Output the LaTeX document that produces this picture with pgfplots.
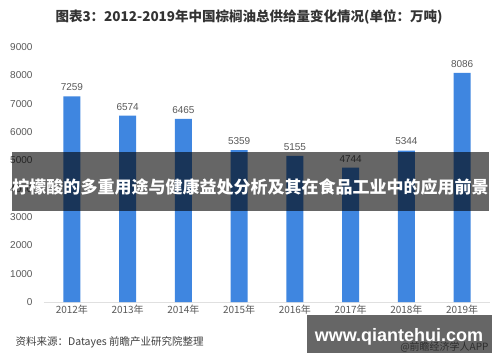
\documentclass[border=0pt]{standalone}
\usepackage{pgfplots}
\pgfplotsset{compat=1.18}
\usepackage{fontspec}
\setmainfont{Liberation Sans}
\newfontfamily\cjk{Noto Sans CJK SC}
\definecolor{barblue}{HTML}{3F86E0}
\definecolor{txtgray}{HTML}{595959}
\begin{document}
\begin{tikzpicture}[x=1pt,y=1pt]
\fill[white] (0,0) rectangle (500,362);
\node[font=\cjk\bfseries\fontsize{13.5}{15}\selectfont, text=black!80] at (249,345) {图表3：2012-2019年中国棕榈油总供给量变化情况(单位：万吨)};
\begin{axis}[
  at={(44pt,60pt)}, anchor=south west,
  width=446pt, height=255pt, scale only axis,
  xmin=-0.5, xmax=7.5, ymin=0, ymax=9000,
  xtick={0,...,7},
  xticklabels={2012年,2013年,2014年,2015年,2016年,2017年,2018年,2019年},
  ytick={0,1000,...,9000},
  axis x line*=bottom, axis y line=none,
  x axis line style={draw=black!12, line width=0.8pt},
  major tick length=0pt,
  tick label style={font=\cjk\fontsize{10}{12}\selectfont, text=txtgray},
  /pgf/number format/assume math mode=true,
  /pgf/number format/1000 sep={},
  scaled y ticks=false,
  clip=false,
]
\addplot[ybar, bar width=17pt, fill=barblue, draw=none,
  nodes near coords,
  nodes near coords style={font=\fontsize{10}{12}\selectfont, text=txtgray, yshift=2pt, /pgf/number format/1000 sep={}}]
  coordinates {(0,7259) (1,6574) (2,6465) (3,5359) (4,5155) (5,4744) (6,5344) (7,8086)};
\pgfplotsinvokeforeach{0,1000,...,9000}{
  \node[anchor=east, font=\fontsize{10}{12}\selectfont, text=txtgray] at (axis cs:-0.5,#1) [xshift=-8pt] {#1};
}
\end{axis}
\node[anchor=west, font=\cjk\fontsize{10.5}{12}\selectfont, text=black!75] at (12,20) {资料来源：Datayes 前瞻产业研究院整理};
\fill[black, opacity=0.6] (12,151) rectangle (489,210);
\node[font=\cjk\bfseries\fontsize{17}{19}\selectfont, text=white] at (250.5,175) {柠檬酸的多重用途与健康益处分析及其在食品工业中的应用前景};
\node[anchor=east, font=\cjk\fontsize{10}{12}\selectfont, text=black!55] at (492,15) {@前瞻经济学人APP};
\fill[black, opacity=0.6] (307,9) rectangle (492,47);
\node[font=\bfseries\fontsize{18}{20}\selectfont, text=white] at (399,25) {www.qiantehui.com};
\end{tikzpicture}
\end{document}
